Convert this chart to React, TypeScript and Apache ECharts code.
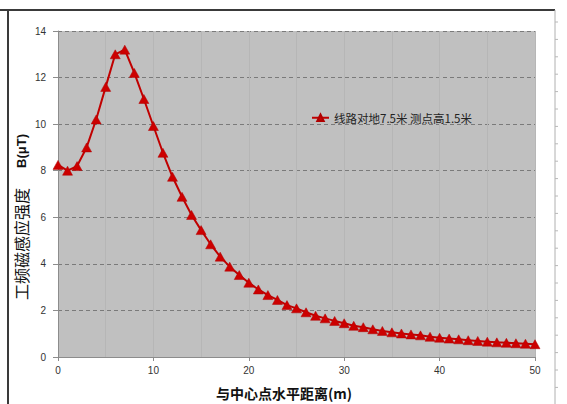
import React, { useEffect, useRef } from "react";
import * as echarts from "echarts";

const distances = [0,1,2,3,4,5,6,7,8,9,10,11,12,13,14,15,16,17,18,19,20,21,22,23,24,25,26,27,28,29,30,31,32,33,34,35,36,37,38,39,40,41,42,43,44,45,46,47,48,49,50];
const fieldValues = [8.25,8.0,8.2,9.0,10.2,11.6,13.0,13.2,12.2,11.08,9.92,8.77,7.74,6.88,6.1,5.45,4.84,4.31,3.88,3.52,3.19,2.9,2.66,2.45,2.23,2.09,1.92,1.77,1.66,1.55,1.45,1.34,1.28,1.19,1.12,1.06,1.01,0.97,0.93,0.87,0.83,0.79,0.76,0.72,0.69,0.66,0.63,0.61,0.59,0.57,0.55];
const seriesName = "线路对地7.5米 测点高1.5米";
const xTitle = "与中心点水平距离(m)";
const yTitleCn = "工频磁感应强度";
const yTitleUnit = "B(μT)";

const FONT = "'Liberation Sans', 'Noto Sans CJK SC', sans-serif";
const CJK = "'Noto Sans CJK SC', 'Liberation Sans', sans-serif";

export default function App() {
  const ref = useRef<HTMLDivElement>(null);
  useEffect(() => {
    if (!ref.current) return;
    const chart = echarts.init(ref.current, null, { renderer: "svg" });
    const rulerTicks: any[] = [];
    for (let y = 22; y < 404; y += 17.4) {
      rulerTicks.push({
        type: "line",
        shape: { x1: 555, y1: y, x2: 558, y2: y },
        style: { stroke: "#b8b8b8", lineWidth: 1 },
        silent: true,
      });
    }
    chart.setOption({
      animation: false,
      backgroundColor: "#ffffff",
      grid: {
        left: 58,
        top: 31,
        right: 32,
        bottom: 47,
        show: true,
        backgroundColor: "#c0c0c0",
        borderWidth: 0,
      },
      legend: {
        left: 311,
        top: 112,
        padding: 0,
        itemWidth: 17,
        itemHeight: 8,
        textStyle: { fontFamily: CJK, fontSize: 11.5, color: "#222" },
        data: [seriesName],
      },
      xAxis: {
        type: "value",
        min: 0,
        max: 50,
        interval: 10,
        axisLine: { show: true, lineStyle: { color: "#8c8c8c", width: 1 } },
        axisTick: { show: true, inside: false, length: 4, lineStyle: { color: "#8c8c8c" } },
        axisLabel: { fontFamily: FONT, fontSize: 10, color: "#333", margin: 8 },
        minorTick: { show: false, splitNumber: 2 },
        splitLine: { show: true, lineStyle: { color: "#b6b6b6", width: 1 } },
        minorSplitLine: { show: true, lineStyle: { color: "#b6b6b6", width: 1 } },
      },
      yAxis: {
        type: "value",
        min: 0,
        max: 14,
        interval: 2,
        axisLine: { show: true, lineStyle: { color: "#8c8c8c", width: 1 } },
        axisTick: { show: true, inside: false, length: 5, lineStyle: { color: "#8c8c8c" } },
        axisLabel: { fontFamily: FONT, fontSize: 10, color: "#333", margin: 12 },
        splitLine: { show: true, lineStyle: { color: "#7a7a7a", width: 1, type: [4, 3] } },
      },
      series: [
        {
          name: seriesName,
          type: "line",
          data: distances.map((d, i) => [d, fieldValues[i]]),
          symbol: "triangle",
          symbolSize: [10, 9],
          lineStyle: { color: "#c00000", width: 2 },
          itemStyle: { color: "#cc0000", borderColor: "#b00000", borderWidth: 0.5 },
        },
      ],
      graphic: [
        { type: "line", shape: { x1: 0, y1: 10, x2: 555, y2: 10 }, style: { stroke: "#3a3a3a", lineWidth: 2 }, silent: true },
        { type: "line", shape: { x1: 8, y1: 10, x2: 8, y2: 404 }, style: { stroke: "#3a3a3a", lineWidth: 2 }, silent: true },
        { type: "line", shape: { x1: 555, y1: 10, x2: 555, y2: 404 }, style: { stroke: "#b0b0b0", lineWidth: 1 }, silent: true },
        ...rulerTicks,
        {
          type: "text",
          x: 284,
          y: 393,
          style: {
            text: xTitle,
            font: `bold 14px ${CJK}`,
            fill: "#111",
            align: "center",
            verticalAlign: "middle",
          },
        },
        {
          type: "text",
          x: 21,
          y: 217,
          rotation: Math.PI / 2,
          style: {
            text: `{a|${yTitleCn}}{s| }{b|${yTitleUnit}}`,
            align: "center",
            verticalAlign: "middle",
            fill: "#111",
            rich: {
              a: { fontFamily: CJK, fontSize: 16, fontWeight: "normal", fill: "#111" },
              s: { fontSize: 16, width: 20 },
              b: { fontFamily: FONT, fontSize: 13, fontWeight: "bold", fill: "#111" },
            },
          },
        },
      ],
    });
    return () => chart.dispose();
  }, []);
  return (
    <div
      ref={ref}
      style={{ position: "absolute", left: 0, top: 0, width: 567, height: 404 }}
    />
  );
}
